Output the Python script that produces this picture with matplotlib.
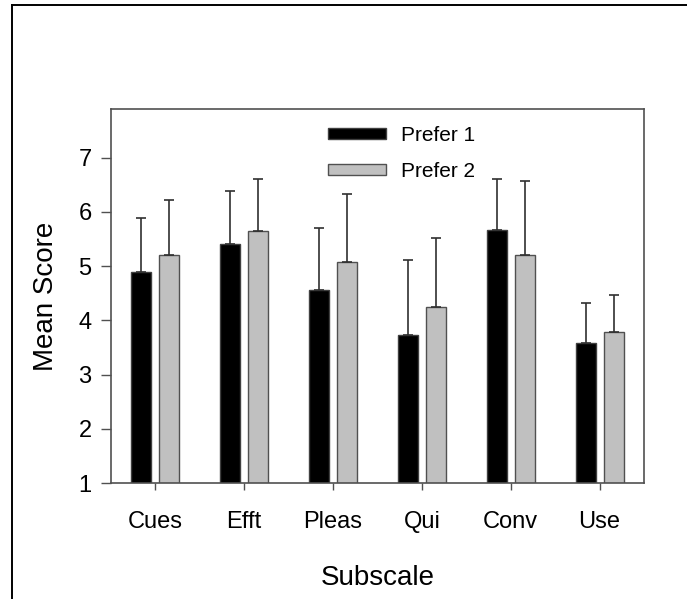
import matplotlib
matplotlib.use("Agg")
import matplotlib.pyplot as plt
from matplotlib.lines import Line2D
import numpy as np

plt.rcParams['font.family'] = ['Liberation Sans', 'DejaVu Sans']

subscales = ["Cues", "Efft", "Pleas", "Qui", "Conv", "Use"]
prefer1_mean = [4.89, 5.41, 4.56, 3.73, 5.67, 3.59]
prefer1_sd = [0.99, 0.98, 1.15, 1.39, 0.93, 0.74]
prefer2_mean = [5.20, 5.64, 5.07, 4.25, 5.20, 3.78]
prefer2_sd = [1.03, 0.96, 1.27, 1.27, 1.38, 0.68]

W, H = 687, 599
fig = plt.figure(figsize=(W / 100, H / 100), dpi=100)

# outer frame, open on the right and bottom
fig.add_artist(Line2D([12 / W, 12 / W], [0, 1 - 5 / H], transform=fig.transFigure,
                      color="black", lw=1.4))
fig.add_artist(Line2D([12 / W, 1], [1 - 5 / H, 1 - 5 / H], transform=fig.transFigure,
                      color="black", lw=1.4))

ax = fig.add_axes([111 / W, 1 - 483 / H, 533 / W, 374 / H])

x = np.arange(len(subscales))
bw = 0.225
off = 0.158
err_kw = dict(ecolor="#303030", elinewidth=1.2, capsize=3.3, capthick=1.2)

ax.bar(x - off, prefer1_mean, bw, color="black", edgecolor="#404040",
       linewidth=1.0, label="Prefer 1",
       yerr=[np.zeros(len(x)), prefer1_sd], error_kw=err_kw, zorder=2)
ax.bar(x + off, prefer2_mean, bw, color="#c0c0c0", edgecolor="#505050",
       linewidth=1.0, label="Prefer 2",
       yerr=[np.zeros(len(x)), prefer2_sd], error_kw=err_kw, zorder=2)

ax.set_xlim(-0.5, len(subscales) - 0.5)
ax.set_ylim(1, 7.9)
ax.set_yticks(range(1, 8))
ax.set_xticks(x)
ax.set_xticklabels(subscales)

for side in ["top", "left", "bottom", "right"]:
    ax.spines[side].set_color("#505050")
    ax.spines[side].set_linewidth(1.2)

ax.tick_params(axis="y", direction="out", length=7, width=1.0, color="#505050",
               pad=7, labelsize=17)
ax.tick_params(axis="x", direction="out", length=5, width=1.0, color="#505050",
               pad=15, labelsize=17)

ax.set_ylabel("Mean Score", fontsize=20, labelpad=14)
ax.set_xlabel("Subscale", fontsize=20, labelpad=23)

leg = ax.legend(loc="upper left", bbox_to_anchor=(328 / W, 1 - 126 / H),
                bbox_transform=fig.transFigure, frameon=False, fontsize=15,
                handlelength=2.8, handleheight=0.45, handletextpad=0.7,
                labelspacing=0.8, borderpad=0, borderaxespad=0)

fig.savefig("out.png", dpi=100)
